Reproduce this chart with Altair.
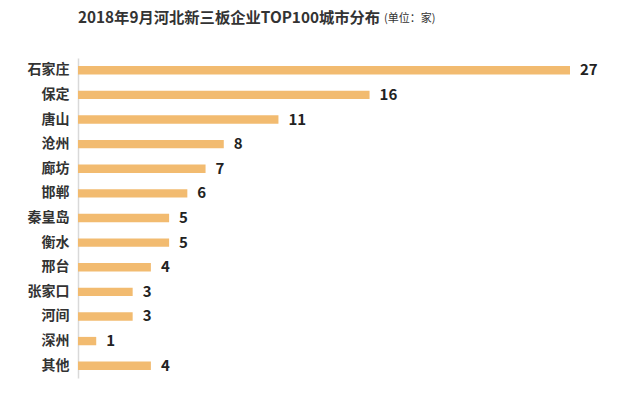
import altair as alt
import pandas as pd

cities = ["石家庄", "保定", "唐山", "沧州", "廊坊", "邯郸", "秦皇岛", "衡水", "邢台", "张家口", "河间", "深州", "其他"]
counts = [27, 16, 11, 8, 7, 6, 5, 5, 4, 3, 3, 1, 4]
title_text = "2018年9月河北新三板企业TOP100城市分布"
unit_text = "(单位：家)"

df = pd.DataFrame({"city": cities, "count": counts})

FONT = "Noto Sans CJK SC"
W, H = 492, 320

y_enc = alt.Y("city:N", sort=cities,
              scale=alt.Scale(paddingInner=0.66, paddingOuter=0.33),
              axis=alt.Axis(title=None, ticks=False, domain=True, domainColor="#d9d9d9",
                            domainWidth=1.5, labelFont=FONT, labelFontSize=14,
                            labelFontWeight="bold", labelColor="#333333", labelPadding=9))
x_enc = alt.X("count:Q", scale=alt.Scale(domain=[0, 27], nice=False),
              axis=None)

bars = alt.Chart(df).mark_bar(color="#F2BB70").encode(x=x_enc, y=y_enc)
labels = alt.Chart(df).mark_text(align="left", baseline="middle", dx=10,
                                 font=FONT, fontSize=15, fontWeight="bold",
                                 color="#222222").encode(
    x=x_enc, y=alt.Y("city:N", sort=cities), text="count:Q")
title = alt.Chart(pd.DataFrame({"t": [title_text]})).mark_text(
    align="left", baseline="middle", font=FONT, fontSize=15.3, fontWeight="bold",
    color="#333333"
).encode(x=alt.value(0), y=alt.value(-40), text="t:N")
unit = alt.Chart(pd.DataFrame({"t": [unit_text]})).mark_text(
    align="left", baseline="middle", font=FONT, fontSize=11, color="#333333"
).encode(x=alt.value(306), y=alt.value(-39), text="t:N")

chart = alt.layer(bars, labels, title, unit).properties(
    width=W, height=H,
    autosize=alt.AutoSizeParams(type="none"),
    padding={"left": 70, "top": 50, "right": 60, "bottom": 10},
).configure(background="white").configure_view(strokeWidth=0, stroke="transparent")

chart.save("out.html", embed_options={"renderer": "svg", "actions": False})
